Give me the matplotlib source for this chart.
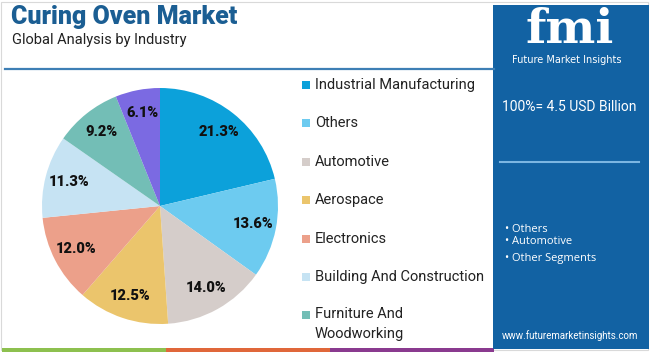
import matplotlib.pyplot as plt
from matplotlib.patches import Rectangle

# data
segments = ['Industrial Manufacturing', 'Others', 'Automotive', 'Aerospace',
            'Electronics', 'Building And Construction', 'Furniture And\nWoodworking', 'Textile']
shares = [21.3, 13.6, 14.0, 12.5, 12.0, 11.3, 9.2, 6.1]
colors = ['#0ca1da', '#6dcbf0', '#d5cdca', '#ebc56c', '#eca08a', '#c6e3f3', '#73beb6', '#7b6ae2']
legend_shown = 7
panel_bullets = ['Others', 'Automotive', 'Other Segments']

W, H = 650, 352
fig = plt.figure(figsize=(W / 100, H / 100), dpi=100)
fig.patch.set_facecolor('white')

def fx(x):
    return x / W

def fy(y):
    return 1 - y / H

# light border
fig.add_artist(Rectangle((fx(1), fy(350)), fx(647), 348 / H, transform=fig.transFigure,
                         fill=False, edgecolor='#d9d9d9', lw=0.8))

# title block
fig.text(fx(11), fy(17), 'Curing Oven Market', fontsize=18, fontweight='black',
         color='#1b5e93', va='center', family='Roboto')
fig.text(fx(12), fy(40), 'Global Analysis by Industry', fontsize=10.5, color='#222222',
         va='center', family='Roboto')
fig.add_artist(plt.Line2D([fx(5), fx(494)], [fy(69), fy(69)], color='#3d7fb5', lw=1.6,
                          transform=fig.transFigure))

# pie
ax = fig.add_axes([fx(42), fy(324), fx(236), 236 / H])
wedges, texts, autotexts = ax.pie(shares, colors=colors, startangle=90, counterclock=False,
                                  autopct='%.1f%%', pctdistance=0.8,
                                  textprops=dict(fontsize=10.5, fontweight='black',
                                                 color='#111111', family='Roboto'))
ax.set_xlim(-1, 1)
ax.set_ylim(-1, 1)
ax.set_aspect('equal')

# legend
for i in range(legend_shown):
    y = 85 + i * 38.4
    fig.add_artist(Rectangle((fx(302), fy(y + 4)), fx(8), 8 / H, transform=fig.transFigure,
                             facecolor=colors[i], edgecolor='none'))
    fig.text(fx(315), fy(y), segments[i], fontsize=10.5, color='#222222',
             va='top' if '\n' in segments[i] else 'center', family='Roboto',
             linespacing=1.55)
    if '\n' in segments[i]:
        fig.texts[-1].set_position((fx(315), fy(y - 8)))

# bottom strip
for x0, x1, c in [(2, 166, '#8dc04f'), (166, 330, '#e0673a'), (330, 494, '#8a3a8f')]:
    fig.add_artist(Rectangle((fx(x0), 0), fx(x1 - x0), 4 / H, transform=fig.transFigure,
                             facecolor=c, edgecolor='none'))

# right panel
fig.add_artist(Rectangle((fx(493), fy(349)), fx(156), 344 / H, transform=fig.transFigure,
                         facecolor='#1262a3', edgecolor='none'))
fig.text(fx(570), fy(30), 'fmi', fontsize=34, fontweight='bold', color='white',
         ha='center', va='center', family='DejaVu Serif')
fig.text(fx(567), fy(60), 'Future Market Insights', fontsize=7, color='white',
         ha='center', va='center')
fig.text(fx(569), fy(107), '100%= 4.5 USD Billion', fontsize=10, color='white',
         ha='center', va='center', family='Roboto')
fig.add_artist(plt.Line2D([fx(500), fx(639)], [fy(162), fy(162)], color='#7cb6e2', lw=1.5,
                          transform=fig.transFigure))
for i, b in enumerate(panel_bullets):
    y = [229, 242, 259][i]
    fig.text(fx(505), fy(y), '\u2022 ' + b, fontsize=8, color='white', va='center',
             family='Open Sans')
fig.text(fx(570), fy(336), 'www.futuremarketinsights.com', fontsize=7, color='white',
         ha='center', va='center', family='Roboto')

fig.savefig('out.png', dpi=100)
